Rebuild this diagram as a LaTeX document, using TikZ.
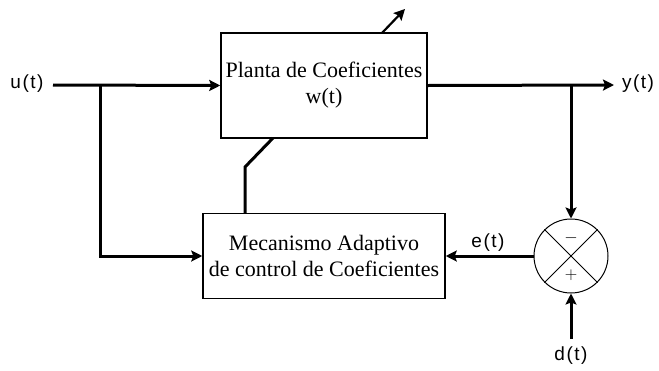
\documentclass[tikz,border=0pt]{standalone}
\usepackage{fontspec}
\setmainfont{Liberation Serif}
\newfontfamily\labfont[LetterSpace=8]{Liberation Sans}
\usetikzlibrary{arrows.meta}
\tikzset{
  blockbox/.style={draw, line width=1.5pt, minimum width=206pt, minimum height=105pt, align=center, font=\fontsize{22}{26}\selectfont},
  sumnode/.style={draw, circle, line width=1pt, minimum size=74pt, inner sep=0pt},
  wire/.style={line width=3pt},
  flow/.style={wire, -{Stealth[length=11pt,width=11pt,inset=2pt]}},
  sig/.style={font=\labfont\fontsize{19}{21}\selectfont},
}
\begin{document}
\begin{tikzpicture}[x=1pt,y=-1pt]
\useasboundingbox (0,0) rectangle (659,370);
% blocks
\node[blockbox] (plant) at (324,85.5) {Planta de Coeficientes\\w(t)};
\node[blockbox, minimum width=242pt, minimum height=85pt] (adapt) at (324,256) {Mecanismo Adaptivo\\de control de Coeficientes};
\node[sumnode] (sum) at (571,256) {};
\draw[line width=1pt] (sum.north west) -- (sum.south east) (sum.north east) -- (sum.south west);
\node[font=\fontsize{16}{18}\selectfont] at (571,238) {$-$};
\node[font=\fontsize{16}{18}\selectfont] at (571,275) {$+$};
% signal labels and end points
\node[sig] (u) at (27,84) {u(t)};
\node[sig] (y) at (638,84) {y(t)};
\node[sig] (d) at (571,356) {d(t)};
\node[sig] (e) at (488,243) {e(t)};
\coordinate (uS) at (53,85);
\coordinate (j1) at (100,85);
\coordinate (j2) at (571,85);
\coordinate (yE) at (614,85);
\coordinate (dS) at (571,339);
\coordinate (a1) at (245,213);
\coordinate (a2) at (245,167);
\coordinate (a3) at (273,138);
\coordinate (w1) at (382,33);
\coordinate (w2) at (405,9);
% connectors
\draw[flow] (uS) -- (plant.west);
\draw[flow] (j1) |- (adapt.west);
\draw[flow] (plant.east) -- (yE);
\draw[flow] (j2) -- (sum.north);
\draw[flow] (dS) -- (sum.south);
\draw[flow] (sum.west) -- (adapt.east);
\draw[wire] (a1) -- (a2) -- (a3);
\draw[line width=2.2pt, -{Stealth[length=11pt,width=11pt,inset=2pt]}] (w1) -- (w2);
\end{tikzpicture}
\end{document}
